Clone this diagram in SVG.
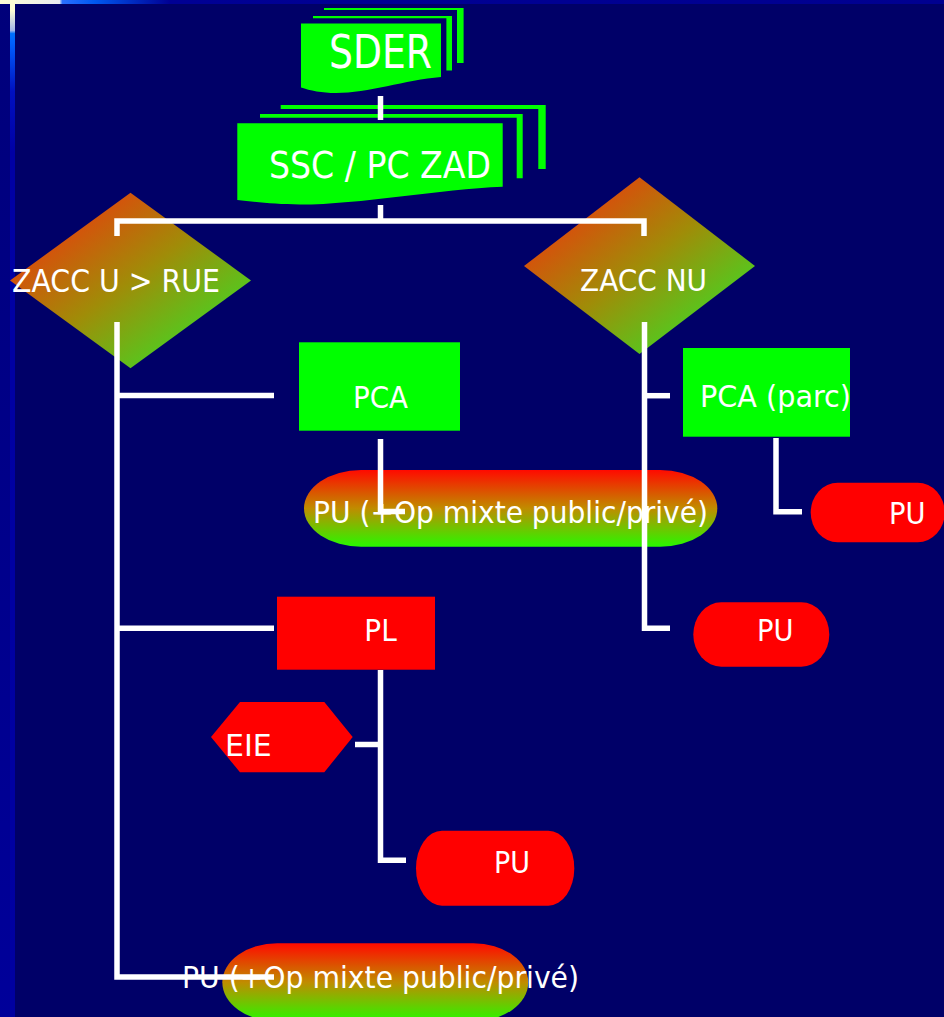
<svg xmlns="http://www.w3.org/2000/svg" width="944" height="1017" viewBox="0 0 944 1017">
<defs>
<style>
.t{font-family:"DejaVu Sans Condensed","DejaVu Sans",sans-serif;fill:#ffffff;font-size:30px}
.g{fill:#00ff00}
.r{fill:#ff0000}
.c{fill:none;stroke:#ffffff;stroke-width:5.5;stroke-linecap:butt;stroke-linejoin:miter}
</style>
<linearGradient id="dia" x1="0" y1="0" x2="1" y2="1">
<stop offset="0.2" stop-color="#dc4a0c"/>
<stop offset="0.5" stop-color="#a08c08"/>
<stop offset="0.8" stop-color="#50cc20"/>
</linearGradient>
<linearGradient id="pill" x1="0" y1="0" x2="0" y2="1">
<stop offset="0" stop-color="#ff0a00"/>
<stop offset="0.5" stop-color="#c08c00"/>
<stop offset="1" stop-color="#28f800"/>
</linearGradient>
<linearGradient id="topbar" x1="0" y1="0" x2="1" y2="0">
<stop offset="0" stop-color="#ffffd4"/>
<stop offset="0.063" stop-color="#e8ecf0"/>
<stop offset="0.066" stop-color="#2a70ff"/>
<stop offset="0.1" stop-color="#0058f0"/>
<stop offset="0.18" stop-color="#000094"/>
<stop offset="1" stop-color="#000090"/>
</linearGradient>
<linearGradient id="sidebar" x1="0" y1="0" x2="0" y2="1">
<stop offset="0" stop-color="#ffffd4"/>
<stop offset="0.01" stop-color="#ffffd4"/>
<stop offset="0.03" stop-color="#a0b4e8"/>
<stop offset="0.033" stop-color="#0070ff"/>
<stop offset="0.042" stop-color="#0060ff"/>
<stop offset="0.09" stop-color="#0010c0"/>
<stop offset="0.15" stop-color="#0000a4"/>
<stop offset="1" stop-color="#0000a0"/>
</linearGradient>
<linearGradient id="leftstrip" x1="0" y1="0" x2="0" y2="1">
<stop offset="0" stop-color="#00007a"/>
<stop offset="1" stop-color="#00009a"/>
</linearGradient>
</defs>
<rect x="0" y="0" width="944" height="1017" fill="#000068"/>
<rect x="0" y="0" width="10" height="1017" fill="url(#leftstrip)"/>
<rect x="0" y="0" width="944" height="4" fill="url(#topbar)"/>
<rect x="10" y="0" width="5" height="1017" fill="url(#sidebar)"/>

<g id="sder">
<path class="g" d="M324,8 H463.6 V63 H457 V10 H324 Z"/>
<path class="g" d="M313,16 H452 V70.4 H446.4 V18.2 H313 Z"/>
<path class="g" d="M301,23.6 H441 V77 C405,80 368,93 336,93 C322,93 310,90.5 301,87.5 Z"/>
<text class="t" x="329" y="68" style="font-size:46px" textLength="103" lengthAdjust="spacingAndGlyphs">SDER</text>
</g>

<g id="ssc">
<path class="g" d="M280.7,105 H545.7 V169 H538.3 V109 H280.7 Z"/>
<path class="g" d="M260,114 H522.7 V178.3 H516.7 V117.7 H260 Z"/>
<path class="g" d="M237.3,123.3 H502.7 V186.7 C440,189 360,204.5 300,204.5 C275,204.5 255,202 237.3,200 Z"/>
<text class="t" x="269" y="178" style="font-size:37px" textLength="222" lengthAdjust="spacingAndGlyphs">SSC / PC ZAD</text>
</g>

<g id="zacc-u">
<polygon points="130.5,192.7 251,280.5 130.5,368.3 10,280.5" fill="url(#dia)"/>
<text class="t" x="12" y="292" style="font-size:32px" textLength="208" lengthAdjust="spacingAndGlyphs">ZACC U &gt; RUE</text>
</g>

<g id="zacc-nu">
<polygon points="639.5,177.3 755,266 639.5,354 524,266" fill="url(#dia)"/>
<text class="t" x="580" y="291" style="font-size:31px" textLength="127" lengthAdjust="spacingAndGlyphs">ZACC NU</text>
</g>

<g id="pca">
<rect class="g" x="299" y="342.3" width="161" height="88.4"/>
<text class="t" x="353" y="408" textLength="55" lengthAdjust="spacingAndGlyphs">PCA</text>
</g>

<g id="pca-parc">
<rect class="g" x="683" y="348" width="167" height="88.7"/>
<text class="t" x="700" y="407" textLength="151" lengthAdjust="spacingAndGlyphs">PCA (parc)</text>
</g>

<g id="pu-mixte-1">
<rect x="304" y="470" width="413.3" height="76.7" rx="57" ry="38.3" fill="url(#pill)"/>
<text class="t" x="313" y="523" textLength="395" lengthAdjust="spacingAndGlyphs">PU (+Op mixte public/privé)</text>
</g>

<g id="pu-right">
<rect class="r" x="810.7" y="482.7" width="134" height="59.6" rx="27" ry="29.8"/>
<text class="t" x="889" y="524" textLength="36.5" lengthAdjust="spacingAndGlyphs">PU</text>
</g>

<g id="pu-nu">
<rect class="r" x="693.3" y="602.3" width="136" height="64.4" rx="28" ry="32.2"/>
<text class="t" x="757" y="641" textLength="36.5" lengthAdjust="spacingAndGlyphs">PU</text>
</g>

<g id="pl">
<rect class="r" x="277" y="596.7" width="158" height="73"/>
<text class="t" x="364.3" y="641" textLength="32.4" lengthAdjust="spacingAndGlyphs">PL</text>
</g>

<g id="eie">
<polygon class="r" points="211,737 240,702 324.3,702 352.7,737 324.3,772.3 240,772.3"/>
<text class="t" x="225" y="756" textLength="46.7" lengthAdjust="spacingAndGlyphs">EIE</text>
</g>

<g id="pu-pl">
<rect class="r" x="416" y="830.7" width="158.3" height="75" rx="26" ry="37.5"/>
<text class="t" x="494" y="873" textLength="36" lengthAdjust="spacingAndGlyphs">PU</text>
</g>

<g id="pu-mixte-2">
<rect x="222.3" y="943.3" width="306" height="78" rx="55" ry="39" fill="url(#pill)"/>
<text class="t" x="182" y="988" textLength="397" lengthAdjust="spacingAndGlyphs">PU (+Op mixte public/privé)</text>
</g>

<g id="connectors">
<path class="c" d="M380.5,96 V120"/>
<path class="c" d="M380.5,205 V221"/>
<path class="c" d="M117,236 V221 H644 V236"/>
<path class="c" d="M117,322 V977 H274"/>
<path class="c" d="M117,395.5 H274"/>
<path class="c" d="M117,628.2 H274"/>
<path class="c" d="M380.5,439 V511.5 H405"/>
<path class="c" d="M380.5,670 V860.3 H406"/>
<path class="c" d="M355,744.5 H380.5"/>
<path class="c" d="M644.5,322 V628.3 H670"/>
<path class="c" d="M644.5,395.7 H670"/>
<path class="c" d="M776,438 V511.7 H802"/>
</g>
</svg>
